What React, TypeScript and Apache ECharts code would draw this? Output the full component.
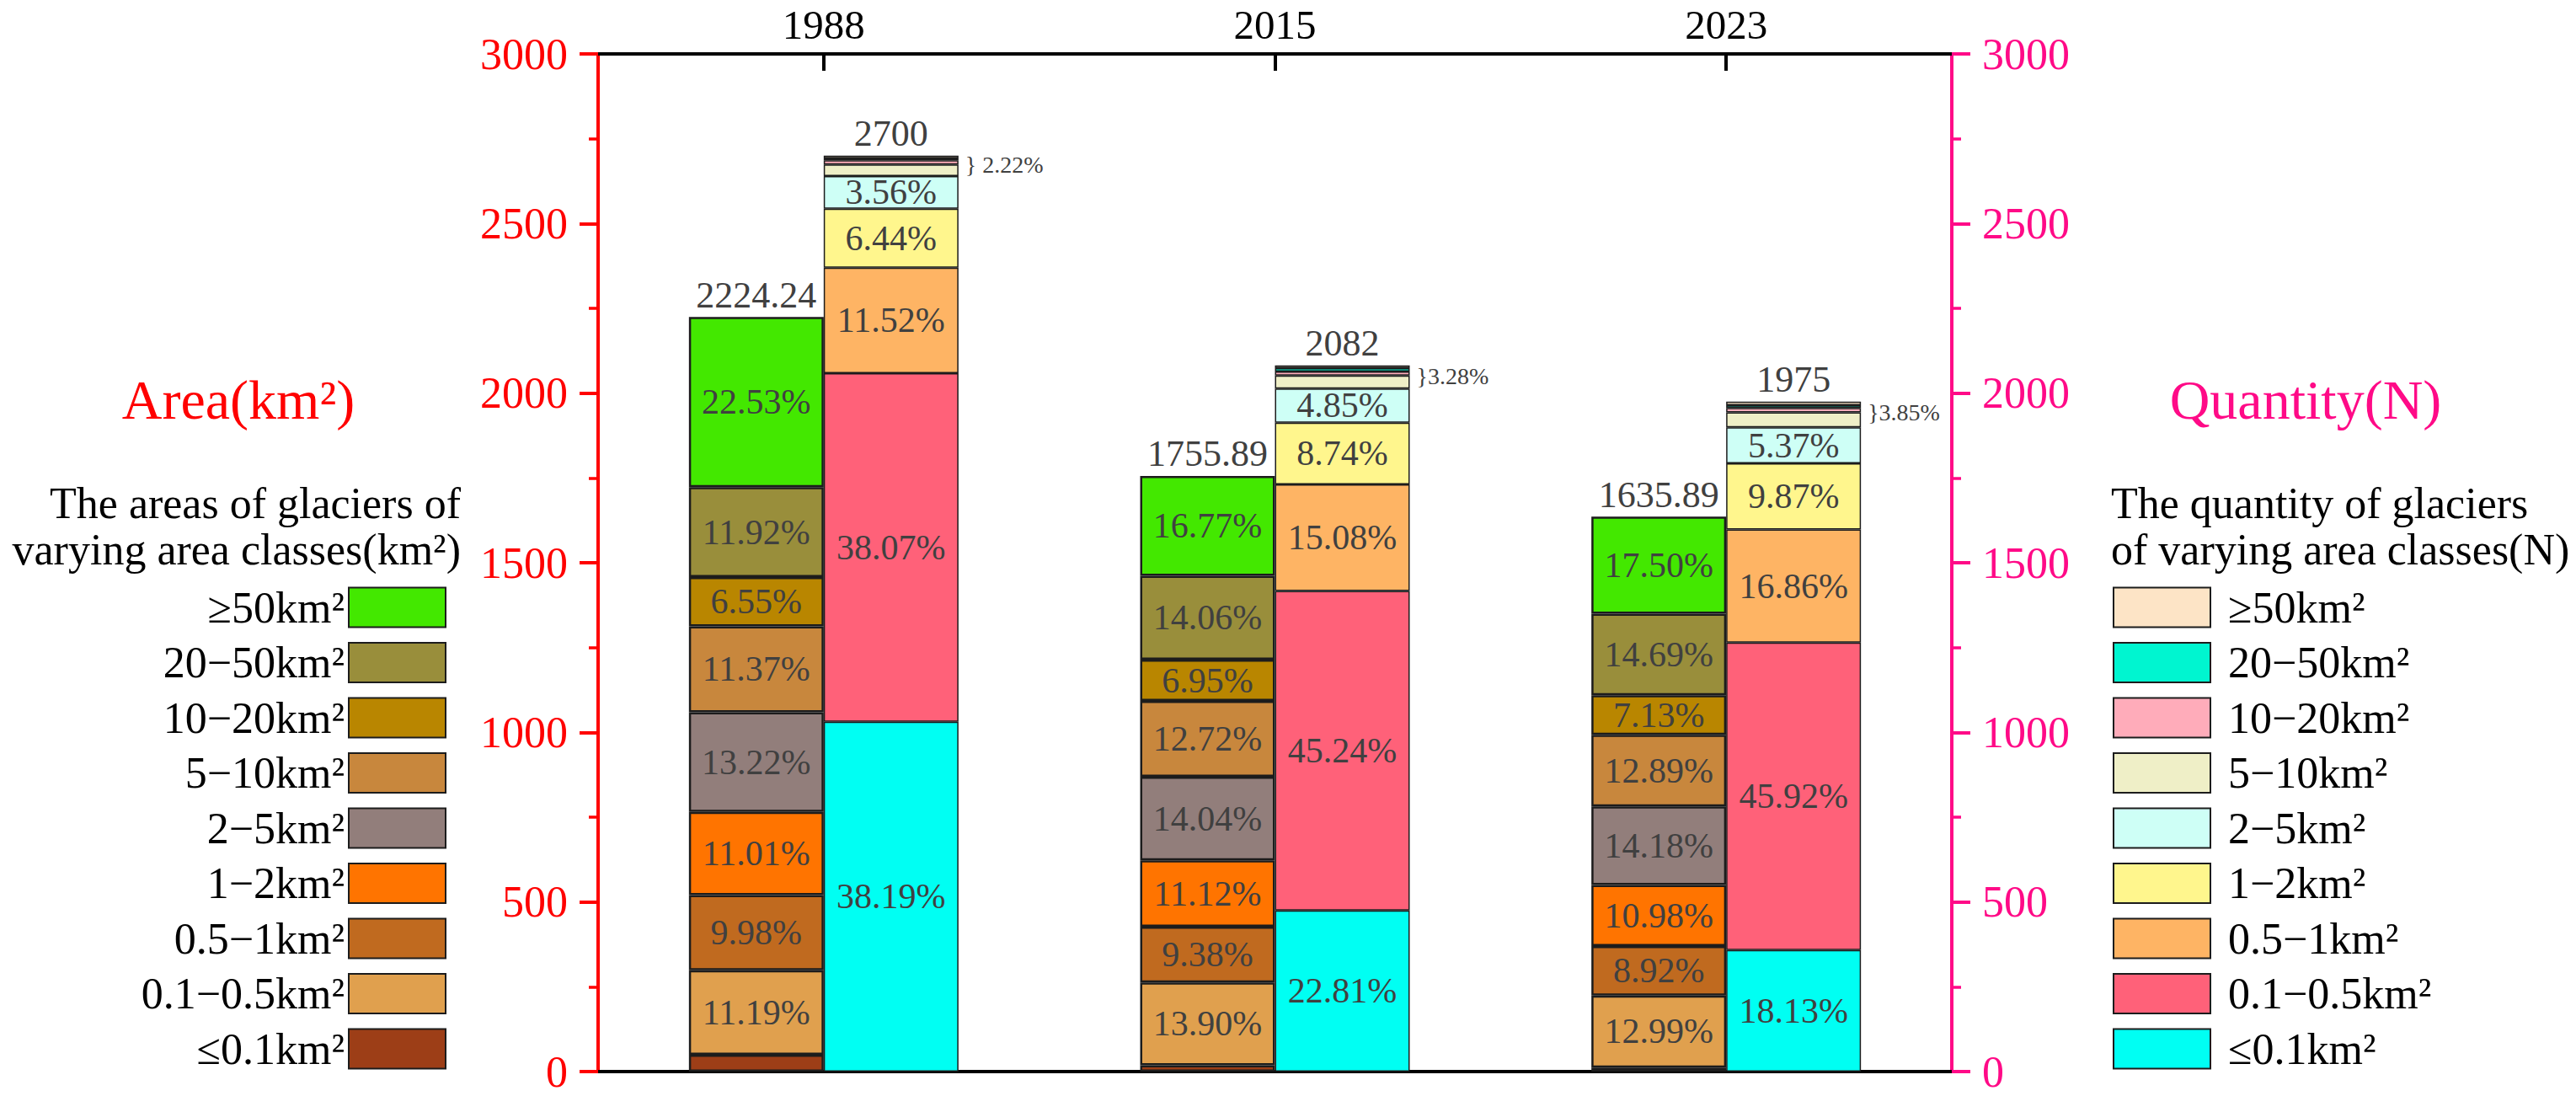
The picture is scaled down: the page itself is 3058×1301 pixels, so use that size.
import React, { useEffect, useRef } from 'react';
import * as echarts from 'echarts';

// ---- data ----
const years = ['1988', '2015', '2023'];
const classes = ['≤0.1km²', '0.1−0.5km²', '0.5−1km²', '1−2km²', '2−5km²', '5−10km²', '10−20km²', '20−50km²', '≥50km²'];

const areaTotals = [2224.24, 1755.89, 1635.89];
const areaTotalLabels = ['2224.24', '1755.89', '1635.89'];
// percentages of area, bottom (≤0.1) to top (≥50)
const areaPct1988 = [2.23, 11.19, 9.98, 11.01, 13.22, 11.37, 6.55, 11.92, 22.53];
const areaPct2015 = [1.06, 13.9, 9.38, 11.12, 14.04, 12.72, 6.95, 14.06, 16.77];
const areaPct2023 = [0.72, 12.99, 8.92, 10.98, 14.18, 12.89, 7.13, 14.69, 17.5];

const qtyTotals = [2700, 2082, 1975];
const qtyTotalLabels = ['2700', '2082', '1975'];
// percentages of glacier count, bottom (≤0.1) to top (≥50)
const qtyPct1988 = [38.19, 38.07, 11.52, 6.44, 3.56, 1.26, 0.45, 0.22, 0.29];
const qtyPct2015 = [22.81, 45.24, 15.08, 8.74, 4.85, 1.83, 0.58, 0.46, 0.41];
const qtyPct2023 = [18.13, 45.92, 16.86, 9.87, 5.37, 2.25, 0.67, 0.4, 0.53];
const bracketTexts = ['} 2.22%', '}3.28%', '}3.85%'];

const areaColors = ['#9d3e17', '#e0a04e', '#c06a1f', '#ff7400', '#927e7b', '#c8873d', '#b98600', '#998e3b', '#43e800'];
const qtyColors = ['#00fff3', '#ff6179', '#feb464', '#fff68d', '#cefff6', '#efefc7', '#ffacba', '#00f5d0', '#fde4c6'];
const areaLabelShown = [false, true, true, true, true, true, true, true, true];
const qtyLabelShown = [true, true, true, true, true, false, false, false, false];

const yTicksMax = 3000;
const yInterval = 500;

const FONT = 'Liberation Serif';
const RED = '#ff0000';
const PINK = '#ff0a87';
const LABEL_GREY = '#404040';

const areaPctByYear = [areaPct1988, areaPct2015, areaPct2023];
const qtyPctByYear = [qtyPct1988, qtyPct2015, qtyPct2023];

function buildOption(): any {
  const series: any[] = [];
  const BAR_W = 160;

  classes.forEach((cls, i) => {
    series.push({
      name: 'A:' + cls,
      type: 'bar',
      stack: 'area',
      xAxisIndex: 0,
      yAxisIndex: 0,
      barWidth: BAR_W,
      barGap: '0%',
      data: years.map((_, j) => (areaTotals[j] * areaPctByYear[j][i]) / 100),
      itemStyle: { color: areaColors[i], borderColor: '#1c1c1c', borderWidth: 2.5 },
      label: {
        show: areaLabelShown[i],
        position: 'inside',
        fontFamily: FONT,
        fontSize: 42,
        color: LABEL_GREY,
        formatter: (p: any) => areaPctByYear[p.dataIndex][i].toFixed(2) + '%',
      },
      emphasis: { disabled: true },
    });
  });
  series.push({
    name: 'areaTotal',
    type: 'bar',
    stack: 'area',
    xAxisIndex: 0,
    yAxisIndex: 0,
    barWidth: BAR_W,
    barGap: '0%',
    data: years.map(() => 0),
    itemStyle: { color: 'rgba(0,0,0,0)', borderWidth: 0 },
    label: {
      show: true,
      position: 'top',
      distance: 4,
      fontFamily: FONT,
      fontSize: 44,
      color: LABEL_GREY,
      formatter: (p: any) => areaTotalLabels[p.dataIndex],
    },
    emphasis: { disabled: true },
  });

  classes.forEach((cls, i) => {
    const lbl: any = {
      show: qtyLabelShown[i],
      position: 'inside',
      fontFamily: FONT,
      fontSize: 42,
      color: LABEL_GREY,
      formatter: (p: any) => qtyPctByYear[p.dataIndex][i].toFixed(2) + '%',
    };
    if (i === 6) {
      lbl.show = true;
      lbl.position = 'right';
      lbl.distance = 8;
      lbl.fontSize = 28;
      lbl.offset = [0, 3];
      lbl.formatter = (p: any) => bracketTexts[p.dataIndex];
    }
    series.push({
      name: 'Q:' + cls,
      type: 'bar',
      stack: 'qty',
      xAxisIndex: 0,
      yAxisIndex: 1,
      barWidth: BAR_W,
      barGap: '0%',
      data: years.map((_, j) => (qtyTotals[j] * qtyPctByYear[j][i]) / 100),
      itemStyle: { color: qtyColors[i], borderColor: '#1c1c1c', borderWidth: 1.5 },
      label: lbl,
      emphasis: { disabled: true },
    });
  });
  series.push({
    name: 'qtyTotal',
    type: 'bar',
    stack: 'qty',
    xAxisIndex: 0,
    yAxisIndex: 1,
    barWidth: BAR_W,
    barGap: '0%',
    data: years.map(() => 0),
    itemStyle: { color: 'rgba(0,0,0,0)', borderWidth: 0 },
    label: {
      show: true,
      position: 'top',
      distance: 4,
      fontFamily: FONT,
      fontSize: 44,
      color: LABEL_GREY,
      formatter: (p: any) => qtyTotalLabels[p.dataIndex],
    },
    emphasis: { disabled: true },
  });

  const legendCommon = {
    orient: 'vertical',
    top: 695,
    icon: 'rect',
    itemWidth: 115,
    itemHeight: 47,
    itemGap: 13.5,
    padding: 0,
    selectedMode: false,
    formatter: (n: string) => n.slice(2),
    textStyle: { fontFamily: FONT, fontSize: 52, color: '#000', lineHeight: 47 },
  };

  const yAxisCommon = (color: string, position: string) => ({
    type: 'value',
    position,
    min: 0,
    max: yTicksMax,
    interval: yInterval,
    axisLine: { show: true, onZero: false, lineStyle: { color, width: 4 } },
    axisTick: { show: true, inside: false, length: 22, lineStyle: { color, width: 4 } },
    minorTick: { show: true, splitNumber: 2, length: 11, lineStyle: { color, width: 3.5 } },
    splitLine: { show: false },
    axisLabel: { color, fontFamily: FONT, fontSize: 52, margin: 36, formatter: (v: number) => String(v) },
  });

  return {
    animation: false,
    backgroundColor: '#ffffff',
    textStyle: { fontFamily: FONT },
    grid: { left: 710, right: 741, top: 64, bottom: 29, containLabel: false },
    xAxis: [
      {
        type: 'category',
        data: years,
        position: 'top',
        axisLine: { show: true, onZero: false, lineStyle: { color: '#000', width: 4 } },
        axisTick: { show: true, inside: true, alignWithLabel: true, length: 20, lineStyle: { color: '#000', width: 4 } },
        axisLabel: { color: '#000', fontFamily: FONT, fontSize: 49, margin: 10 },
        splitLine: { show: false },
      },
      {
        type: 'category',
        data: years,
        position: 'bottom',
        axisLine: { show: true, onZero: false, lineStyle: { color: '#000', width: 4 } },
        axisTick: { show: false },
        axisLabel: { show: false },
        splitLine: { show: false },
      },
    ],
    yAxis: [yAxisCommon(RED, 'left'), yAxisCommon(PINK, 'right')],
    legend: [
      {
        ...legendCommon,
        right: 3058 - 530,
        align: 'right',
        data: classes.slice().reverse().map((c) => 'A:' + c),
      },
      {
        ...legendCommon,
        left: 2508,
        align: 'left',
        data: classes.slice().reverse().map((c) => 'Q:' + c),
        textStyle: { ...legendCommon.textStyle, padding: [0, 0, 0, 16] },
      },
    ],
    graphic: [
      {
        type: 'text',
        x: 283,
        y: 474,
        style: { text: 'Area(km²)', fill: RED, font: `66px "${FONT}"`, textAlign: 'center', textVerticalAlign: 'middle' },
      },
      {
        type: 'text',
        x: 547,
        y: 597,
        style: { text: 'The areas of glaciers of', fill: '#000', font: `52px "${FONT}"`, textAlign: 'right', textVerticalAlign: 'middle' },
      },
      {
        type: 'text',
        x: 547,
        y: 652,
        style: { text: 'varying area classes(km²)', fill: '#000', font: `52px "${FONT}"`, textAlign: 'right', textVerticalAlign: 'middle' },
      },
      {
        type: 'text',
        x: 2737,
        y: 474,
        style: { text: 'Quantity(N)', fill: PINK, font: `66px "${FONT}"`, textAlign: 'center', textVerticalAlign: 'middle' },
      },
      {
        type: 'text',
        x: 2506,
        y: 597,
        style: { text: 'The quantity of glaciers', fill: '#000', font: `52px "${FONT}"`, textAlign: 'left', textVerticalAlign: 'middle' },
      },
      {
        type: 'text',
        x: 2506,
        y: 652,
        style: { text: 'of varying area classes(N)', fill: '#000', font: `52px "${FONT}"`, textAlign: 'left', textVerticalAlign: 'middle' },
      },
    ],
    series,
  };
}

export default function App() {
  const ref = useRef<HTMLDivElement>(null);
  useEffect(() => {
    if (!ref.current) return;
    const chart = echarts.init(ref.current, null, { renderer: 'svg' });
    chart.setOption(buildOption());
    return () => chart.dispose();
  }, []);
  return (
    <div
      ref={ref}
      style={{ position: 'fixed', left: 0, top: 0, width: 3058, height: 1301, background: '#fff' }}
    />
  );
}
